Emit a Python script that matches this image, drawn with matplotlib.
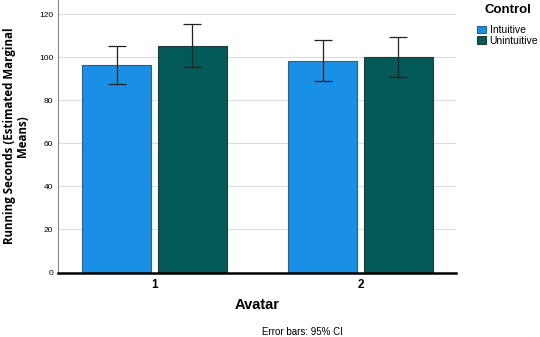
import matplotlib
matplotlib.use("Agg")
import matplotlib.pyplot as plt
import numpy as np

plt.rcParams["font.family"] = ["Liberation Sans", "DejaVu Sans"]

avatars = ["1", "2"]
groups = ["Intuitive", "Unintuitive"]
means = {"Intuitive": [96.7, 98.4], "Unintuitive": [105.5, 100.2]}
ci_low = {"Intuitive": [87.8, 89.1], "Unintuitive": [95.6, 91.1]}
ci_high = {"Intuitive": [105.5, 108.1], "Unintuitive": [115.4, 109.4]}
colors = {"Intuitive": "#1a8fe6", "Unintuitive": "#045a57"}
edgecolors = {"Intuitive": "#2d5f86", "Unintuitive": "#1f3b3a"}
yticks = [0, 20, 40, 60, 80, 100, 120]

W, H = 540, 337
fig = plt.figure(figsize=(W / 100, H / 100), dpi=100)
ax = fig.add_axes([58 / W, 1 - 272.5 / H, (456 - 58) / W, 272.5 / H])

x = np.arange(1, len(avatars) + 1)
width = 0.335
offsets = {"Intuitive": -0.184, "Unintuitive": 0.184}
for g in groups:
    pos = x + offsets[g]
    m = np.array(means[g])
    lo = m - np.array(ci_low[g])
    hi = np.array(ci_high[g]) - m
    ax.bar(pos, m, width, color=colors[g], edgecolor=edgecolors[g], linewidth=0.8, label=g, zorder=2)
    ax.errorbar(pos, m, yerr=[lo, hi], fmt="none", ecolor="#222222", elinewidth=0.9, capsize=6.5, capthick=0.9, zorder=3)

ax.set_xlim(0.532, 2.464)
ax.set_ylim(0, 126.7)
ax.set_xticks(x)
ax.set_xticklabels(avatars, fontsize=8.5, fontweight="bold")
ax.set_yticks(yticks)
ax.set_yticklabels([str(v) for v in yticks], fontsize=6)
ax.tick_params(axis="both", length=0)
ax.tick_params(axis="x", pad=5)
ax.tick_params(axis="y", pad=3.5)
ax.grid(axis="y", color="#dddddd", linewidth=0.8, zorder=0)
ax.set_axisbelow(True)
for s in ["top", "right"]:
    ax.spines[s].set_visible(False)
ax.spines["left"].set_color("#888888")
ax.spines["left"].set_linewidth(0.8)
ax.spines["bottom"].set_color("black")
ax.spines["bottom"].set_linewidth(1.8)

ax.set_xlabel("Avatar", fontsize=10.5, fontweight="bold", labelpad=4.5)
ax.set_ylabel("Running Seconds (Estimated Marginal\nMeans)", fontsize=8.3, fontweight="bold",
              family=["Open Sans", "DejaVu Sans"], labelpad=7, linespacing=1.0)

fig.text(302 / W, 1 - 335 / H, "Error bars: 95% CI", fontsize=7, ha="center", va="baseline")

# legend title and entries
fig.text(508 / W, 1 - 13 / H, "Control", fontsize=9.5, fontweight="bold", ha="center", va="baseline")
leg = ax.legend(loc="upper left", bbox_to_anchor=(477 / W, 1 - 25 / H), bbox_transform=fig.transFigure,
                frameon=False, fontsize=7.5, handlelength=0.87, handleheight=0.75, handletextpad=0.35,
                labelspacing=0.05, borderpad=0, borderaxespad=0)

fig.savefig("out.png", dpi=100)
